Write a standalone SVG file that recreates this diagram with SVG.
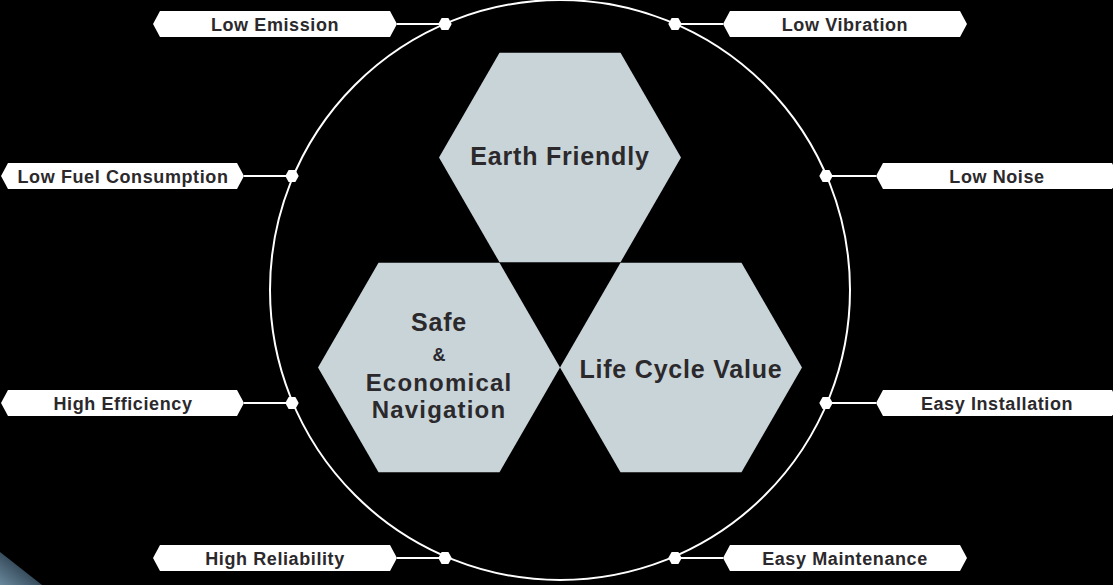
<svg xmlns="http://www.w3.org/2000/svg" width="1113" height="585" viewBox="0 0 1113 585">
<defs>
<style>
.hex{fill:#c9d4d9;}
.ht{font-family:"Liberation Sans",Arial,sans-serif;font-weight:bold;font-size:25px;letter-spacing:0.8px;fill:#2b292c;text-anchor:middle;}
.ht2{font-size:24px;letter-spacing:1.2px;}
.amp{font-size:18px;letter-spacing:0;}
.lab{fill:#ffffff;}
.lt{font-family:"Liberation Sans",Arial,sans-serif;font-weight:bold;font-size:18px;letter-spacing:0.6px;fill:#2b292c;text-anchor:middle;}
.con{stroke:#ffffff;stroke-width:2;fill:none;}
.dot{fill:#ffffff;}
</style>
<linearGradient id="corner" x1="0" y1="1" x2="1" y2="0">
<stop offset="0" stop-color="#6a889c"/>
<stop offset="0.6" stop-color="#2e4252"/>
<stop offset="1" stop-color="#070b10"/>
</linearGradient>
<polygon id="dotshape" points="-6.7,0 -3.4,-6 3.4,-6 6.7,0 3.4,6 -3.4,6"/>
</defs>
<rect x="0" y="0" width="1113" height="585" fill="#000000"/>
<polygon points="0,552 42,585 0,585" fill="url(#corner)"/>

<g id="connectors">
<circle class="con" cx="560" cy="290" r="290"/>
<line class="con" x1="397" y1="24" x2="445" y2="24"/>
<line class="con" x1="244" y1="176" x2="292" y2="176"/>
<line class="con" x1="244" y1="403" x2="292" y2="403"/>
<line class="con" x1="397" y1="558" x2="445" y2="558"/>
<line class="con" x1="675" y1="24" x2="723" y2="24"/>
<line class="con" x1="828" y1="176" x2="876" y2="176"/>
<line class="con" x1="828" y1="403" x2="876" y2="403"/>
<line class="con" x1="675" y1="558" x2="723" y2="558"/>
<use href="#dotshape" class="dot" x="445" y="24"/>
<use href="#dotshape" class="dot" x="292" y="176"/>
<use href="#dotshape" class="dot" x="292" y="403"/>
<use href="#dotshape" class="dot" x="445" y="558"/>
<use href="#dotshape" class="dot" x="675" y="24"/>
<use href="#dotshape" class="dot" x="826" y="176"/>
<use href="#dotshape" class="dot" x="826" y="403"/>
<use href="#dotshape" class="dot" x="675" y="558"/>
</g>

<g id="hex-earth">
<polygon class="hex" points="439,157.5 499.5,52.7 620.5,52.7 681,157.5 620.5,262.3 499.5,262.3"/>
<text class="ht" x="560" y="165">Earth Friendly</text>
</g>
<g id="hex-safe">
<polygon class="hex" points="318,367.5 378.5,262.7 499.5,262.7 560,367.5 499.5,472.3 378.5,472.3"/>
<text class="ht" x="439" y="331">Safe</text>
<text class="ht amp" x="439" y="361">&amp;</text>
<text class="ht ht2" x="439" y="390.5">Economical</text>
<text class="ht ht2" x="439" y="418">Navigation</text>
</g>
<g id="hex-life">
<polygon class="hex" points="560,367.5 620.5,262.7 741.5,262.7 802,367.5 741.5,472.3 620.5,472.3"/>
<text class="ht" x="681" y="378">Life Cycle Value</text>
</g>

<g id="label-low-emission">
<polygon class="lab" points="153,24 160,11 390,11 397,24 390,37 160,37"/>
<text class="lt" x="275" y="30.5">Low Emission</text>
</g>
<g id="label-low-fuel">
<polygon class="lab" points="1,176 8,163 237,163 244,176 237,189 8,189"/>
<text class="lt" x="123" y="182.5">Low Fuel Consumption</text>
</g>
<g id="label-high-efficiency">
<polygon class="lab" points="1,403 8,390 237,390 244,403 237,416 8,416"/>
<text class="lt" x="123" y="409.5">High Efficiency</text>
</g>
<g id="label-high-reliability">
<polygon class="lab" points="153,558 160,545 390,545 397,558 390,571 160,571"/>
<text class="lt" x="275" y="564.5">High Reliability</text>
</g>
<g id="label-low-vibration">
<polygon class="lab" points="723,24 730,11 960,11 967,24 960,37 730,37"/>
<text class="lt" x="845" y="30.5">Low Vibration</text>
</g>
<g id="label-low-noise">
<polygon class="lab" points="876,176 883,163 1112,163 1119,176 1112,189 883,189"/>
<text class="lt" x="997" y="182.5">Low Noise</text>
</g>
<g id="label-easy-installation">
<polygon class="lab" points="876,403 883,390 1112,390 1119,403 1112,416 883,416"/>
<text class="lt" x="997" y="409.5">Easy Installation</text>
</g>
<g id="label-easy-maintenance">
<polygon class="lab" points="723,558 730,545 960,545 967,558 960,571 730,571"/>
<text class="lt" x="845" y="564.5">Easy Maintenance</text>
</g>
</svg>
